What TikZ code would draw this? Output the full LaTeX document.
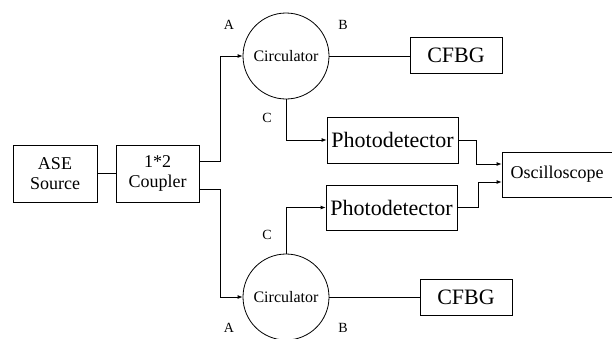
\documentclass[tikz,border=0pt]{standalone}
\usepackage{fontspec}
\setmainfont{Liberation Serif}
\usetikzlibrary{arrows.meta}
\begin{document}
\begin{tikzpicture}[x=1pt,y=-1pt,line width=0.8pt,
  box/.style={draw,rectangle,inner sep=0pt},
  circ/.style={draw,circle,minimum size=86pt,inner sep=0pt,font=\fontsize{16}{18}\selectfont},
  arr/.style={-{Latex[length=5pt,width=4pt]}},
  lbl/.style={font=\fontsize{14}{16}\selectfont,inner sep=0pt},
  big/.style={font=\fontsize{22}{26}\selectfont},
  med/.style={font=\fontsize{18}{22}\selectfont,align=center}]
\useasboundingbox (0,0) rectangle (612,338);
\clip (0,0) rectangle (612,338);
\node[box,med,minimum width=84pt,minimum height=57pt] (ase) at (55,173.5) {ASE\\[-2pt]Source};
\node[box,med,minimum width=83pt,minimum height=57pt] (cpl) at (157.5,173.5) {1*2\\[-2pt]Coupler};
\node[circ] (c1) at (286,56) {Circulator};
\node[circ] (c2) at (286,297) {Circulator};
\node[box,big,minimum width=92pt,minimum height=36pt] (f1) at (456,55.5) {CFBG};
\node[box,big,minimum width=92pt,minimum height=36pt] (f2) at (466,297) {CFBG};
\node[box,big,minimum width=131pt,minimum height=46pt] (pd1) at (392.5,140) {Photodetector};
\node[box,big,minimum width=131pt,minimum height=45pt] (pd2) at (391.5,207.5) {Photodetector};
\node[box,med,minimum width=118pt,minimum height=45pt] (osc) at (561,174.5) {\hspace*{-8pt}Oscilloscope};
\node[lbl] (a1) at (229,25) {A};
\node[lbl] (b1) at (343,25) {B};
\node[lbl] (k1) at (267,118) {C};
\node[lbl] (k2) at (267,235) {C};
\node[lbl] (a2) at (229,328) {A};
\node[lbl] (b2) at (343,328) {B};
\draw (ase.east) -- (cpl.west);
\draw[arr] ([yshift=12.5pt]cpl.east) -- ++(21,0) |- (c1.west);
\draw[arr] ([yshift=-15.5pt]cpl.east) -- ++(21,0) |- (c2.west);
\draw (c1.east) -- (c1.east -| f1.west);
\draw (c2.east) -- (c2.east -| f2.west);
\draw[arr] (c1.south) |- (pd1.west);
\draw[arr] (c2.north) |- (pd2.west);
\draw[arr] (pd1.east) -- ++(18,0) |- ([yshift=10.5pt]osc.west);
\draw[arr] (pd2.east) -- ++(21,0) |- ([yshift=-7.5pt]osc.west);
\end{tikzpicture}
\end{document}
